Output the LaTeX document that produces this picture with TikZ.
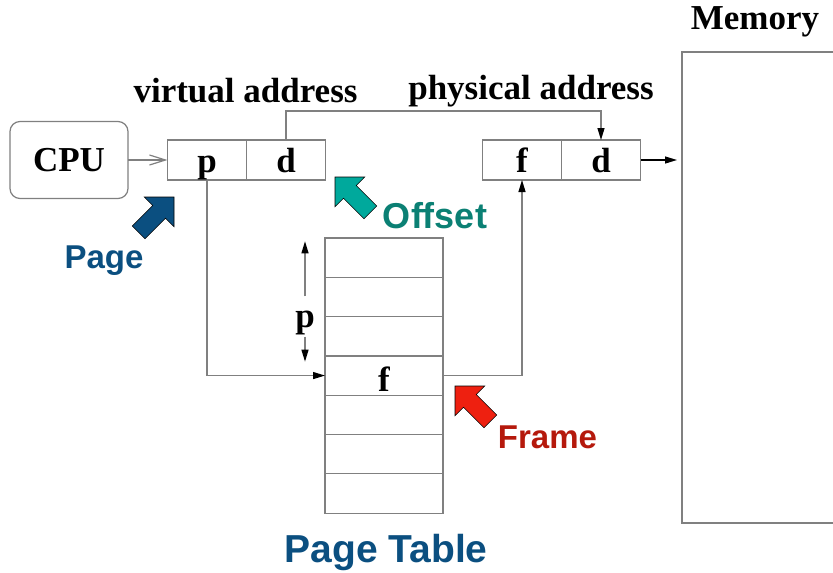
\documentclass[tikz,border=0pt]{standalone}
\usepackage{fontspec}
\setmainfont{Liberation Serif}
\newfontfamily\calloutfont{Liberation Sans}
\usetikzlibrary{arrows.meta,%
                positioning}

\definecolor{pageblue}{HTML}{0B4F80}
\definecolor{offsetteal}{HTML}{0B8074}
\definecolor{offsetarrow}{HTML}{00A99C}
\definecolor{framered}{HTML}{B5190C}
\definecolor{framearrow}{HTML}{EE2010}
\definecolor{linegray}{HTML}{808080}

\tikzset{cell/.style={
			  rectangle,
			  draw            = linegray,
			  line width      = 1.2pt,
			  outer sep       = 0pt,
			  inner sep       = 0pt,
			  minimum width   = 79pt,
			  minimum height  = 40pt,
			  text height     = 27pt,
			  text depth      = 3pt,
			  font            = \bfseries\fontsize{35}{38}\selectfont
			}}
\tikzset{row/.style={
			  rectangle,
			  draw            = linegray,
			  line width      = 1.2pt,
			  outer sep       = 0pt,
			  inner sep       = 0pt,
			  minimum width   = 118pt,
			  minimum height  = 39.3pt
			}}
\tikzset{cpubox/.style={
			  rectangle,
			  rounded corners = 10pt,
			  draw            = linegray,
			  line width      = 1.2pt,
			  outer sep       = 0pt,
			  minimum width   = 118pt,
			  minimum height  = 77pt,
			  font            = \bfseries\fontsize{35}{38}\selectfont
			}}
\tikzset{membox/.style={
			  rectangle,
			  draw            = linegray,
			  line width      = 1.2pt,
			  outer sep       = 0pt,
			  minimum width   = 218pt,
			  minimum height  = 471pt
			}}
\tikzset{title/.style={
			  anchor          = base,
			  inner sep       = 0pt,
			  font            = \bfseries\fontsize{35}{38}\selectfont
			}}
\tikzset{callout/.style={
			  anchor          = base,
			  inner sep       = 0pt,
			  font            = \calloutfont\bfseries\fontsize{33}{36}\selectfont
			}}
\tikzset{fatarrow/.pic={
			  \path [pic actions] (0,0) -- (-21,21) -- (-21,9) -- (-50,9)
			        -- (-50,-9) -- (-21,-9) -- (-21,-21) -- cycle;
			}}
\tikzset{link/.style={
			  draw            = linegray,
			  line width      = 1.2pt,
			  -{Triangle[length=12pt,width=7pt,color=black]}
			}}

\begin{document}
\begin{tikzpicture}[x=1pt, y=-1pt]
    \useasboundingbox (0,0) rectangle (833,573);

    \node (cpu)    [cpubox]                    at (69,160)      {CPU};
    \node (vp)     [cell]                      at (207,160)     {p};
    \node (vd)     [cell, right=0pt of vp]                      {d};
    \node (pf)     [cell]                      at (522,160)     {f};
    \node (pd)     [cell, right=0pt of pf]                      {d};
    \node (mem)    [membox]                    at (791,287.5)   {};

    \node (t1)     [row]                       at (384,257.65)  {};
    \node (t2)     [row, below=0pt of t1]                       {};
    \node (t3)     [row, below=0pt of t2]                       {};
    \node (t4)     [row, below=0pt of t3]                       {};
    \node (t5)     [row, below=0pt of t4]                       {};
    \node (t6)     [row, below=0pt of t5]                       {};
    \node (t7)     [row, below=0pt of t6]                       {};
    \node (tf)     [title, yshift=-16pt]       at (t4.center)   {f};
    \node (pidx)   [title]                     at (305,327)     {p};

    \node (vaddr)  [title]                     at (245.5,102)   {virtual address};
    \node (paddr)  [title]                     at (531,99)      {physical address};
    \node (memlbl) [title]                     at (755,29)      {Memory};

    \node (page)   [callout, text=pageblue]    at (104,268)     {Page};
    \node (offset) [callout, text=offsetteal, font=\calloutfont\bfseries\fontsize{36}{40}\selectfont]
                                               at (435,228)     {Offset};
    \node (frame)  [callout, text=framered]    at (547.5,448)   {Frame};
    \node (ptable) [callout, text=pageblue, font=\calloutfont\bfseries\fontsize{39}{42}\selectfont]
                                               at (386,562)     {Page Table};

    \pic [rotate=45,  fill=pageblue,    draw=black, line width=0.6pt] at (174,197) {fatarrow};
    \pic [rotate=135, fill=offsetarrow, draw=black, line width=0.6pt] at (335,177) {fatarrow};
    \pic [rotate=135, fill=framearrow,  draw=black, line width=0.6pt] at (455,386) {fatarrow};

    \draw [draw=linegray, line width=1.2pt, -{Straight Barb[length=16pt,width=10pt]}] (cpu) to (vp);
    \draw [link] (vd.north) -- ++(0,-29) -| (pd.north);
    \draw [link, draw=black, shorten >=5pt] (pd.east) -- (pd.east -| mem.west);
    \draw [link] (vp.south) |- (t4.west);
    \draw [link] (t4.east) -| (pf.south);
%
    \draw [link] ([yshift=14pt]pidx.north) -- ++(0,-55);
    \draw [link] ([yshift=-2pt]pidx.south) -- ++(0,25);

\end{tikzpicture}
\end{document}
